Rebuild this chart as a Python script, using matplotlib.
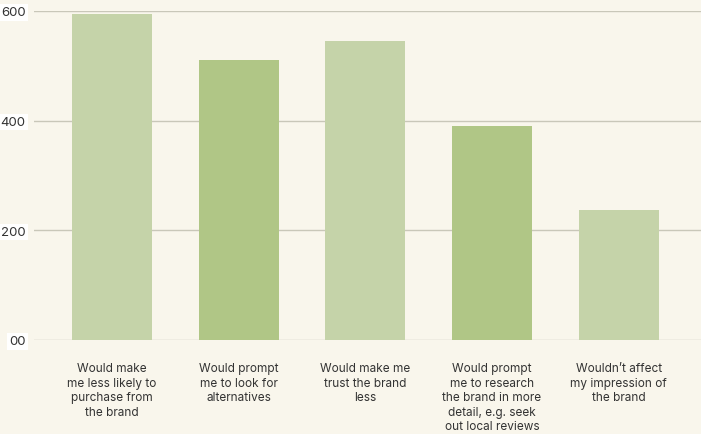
import matplotlib
matplotlib.use("Agg")
import matplotlib.pyplot as plt

categories = [
    "Would make\nme less likely to\npurchase from\nthe brand",
    "Would prompt\nme to look for\nalternatives",
    "Would make me\ntrust the brand\nless",
    "Would prompt\nme to research\nthe brand in more\ndetail, e.g. seek\nout local reviews",
    "Wouldn\u2019t affect\nmy impression of\nthe brand",
]
values = [594, 510, 545, 390, 237]
colors = ["#c5d3a9", "#b0c686", "#c5d3a9", "#b0c686", "#c5d3a9"]
yticks = [0, 200, 400, 600]
ytick_labels = ["00", "200", "400", "600"]

plt.rcParams['font.family'] = ['Inter', 'DejaVu Sans']
bg = "#f9f6ec"
fig = plt.figure(figsize=(7.01, 4.35), dpi=100, facecolor=bg)
ax = fig.add_axes([34/701, 94/435, (701-34)/701, (341-12)/435], facecolor=bg)

x = list(range(len(categories)))
ax.bar(x, values, width=0.63, color=colors, zorder=2)
ax.set_xlim(-0.615, 4.65)
ax.set_ylim(0, 600)
ax.set_yticks(yticks)
ax.set_yticklabels(ytick_labels, fontsize=9.5, color="#333333")
for t in ax.get_yticklabels():
    t.set_bbox(dict(facecolor="white", edgecolor="none", pad=1.5))
ax.tick_params(axis='y', length=0, pad=6)
ax.set_xticks(x)
ax.set_xticklabels(categories, fontsize=8.5, color="#333333", linespacing=1.28)
ax.tick_params(axis='x', length=0, pad=16)
ax.grid(axis='y', color="#c9c7b9", linewidth=1.0, zorder=1)
for s in ax.spines.values():
    s.set_visible(False)

fig.savefig("out.png", dpi=100, facecolor=bg)
